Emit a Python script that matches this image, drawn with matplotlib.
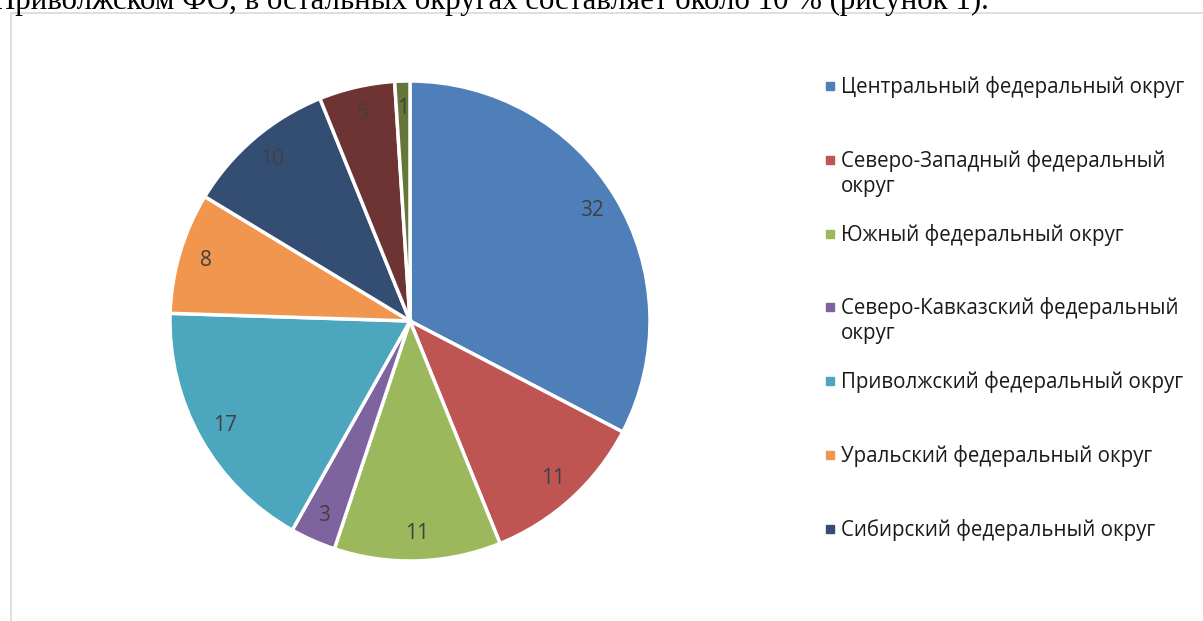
import matplotlib.pyplot as plt
from matplotlib.patches import Rectangle

W, H = 1203, 621

# data
districts = [
    "Центральный федеральный округ",
    "Северо-Западный федеральный\nокруг",
    "Южный федеральный округ",
    "Северо-Кавказский федеральный\nокруг",
    "Приволжский федеральный округ",
    "Уральский федеральный округ",
    "Сибирский федеральный округ",
    "Дальневосточный федеральный округ",
    "Крымский федеральный округ",
]
shares = [32, 11, 11, 3, 17, 8, 10, 5, 1]
colors = ["#4F7FB8", "#BE5552", "#9BB85D", "#7E649E", "#4BA6BE",
          "#F0964F", "#344D73", "#6E3433", "#66763A"]
legend_count = 7  # the legend in the source is cut after seven entries

fig = plt.figure(figsize=(W / 100, H / 100), dpi=100)


def fx(px):
    return px / W


def fy(py):
    return 1 - py / H


# cut-off line of body text above the chart
fig.text(fx(-7), fy(9), "Приволжском ФО, в остальных округах составляет около 10 % (рисунок 1).",
         family="Liberation Serif", fontsize=22.2, color="black", ha="left", va="baseline")

# chart frame (runs off the right and bottom edges)
fig.patches.append(Rectangle((fx(10.5), fy(700)), fx(1300), (700 - 12.5) / H,
                             transform=fig.transFigure, fill=False,
                             edgecolor="#D9D9D9", linewidth=1.2))

# pie
cx, cy, r = 410, 321, 240
ax = fig.add_axes([fx(cx - r), fy(cy + r), 2 * r / W, 2 * r / H])
total = sum(shares)
wedges, texts, autotexts = ax.pie(
    shares, colors=colors, startangle=90, counterclock=False,
    autopct=lambda p: f"{p * total / 100:.0f}", pctdistance=0.885,
    wedgeprops=dict(edgecolor="white", linewidth=2.5),
    textprops=dict(family="Open Sans", fontsize=15, color="#404040"))
ax.set_xlim(-1, 1)
ax.set_ylim(-1, 1)
ax.set_aspect("equal")
ax.axis("off")

# legend, one slot every 73.8 px
for i in range(legend_count):
    top = 86 + i * 73.8
    fig.patches.append(Rectangle((fx(826), fy(top + 4)), fx(8), 8 / H,
                                 transform=fig.transFigure, color=colors[i]))
    fig.text(fx(841), fy(top - 10), districts[i], family="Open Sans", fontsize=14.8,
             color="#1A1A1A", ha="left", va="top", linespacing=1.25)

plt.savefig("out.png", dpi=100)
